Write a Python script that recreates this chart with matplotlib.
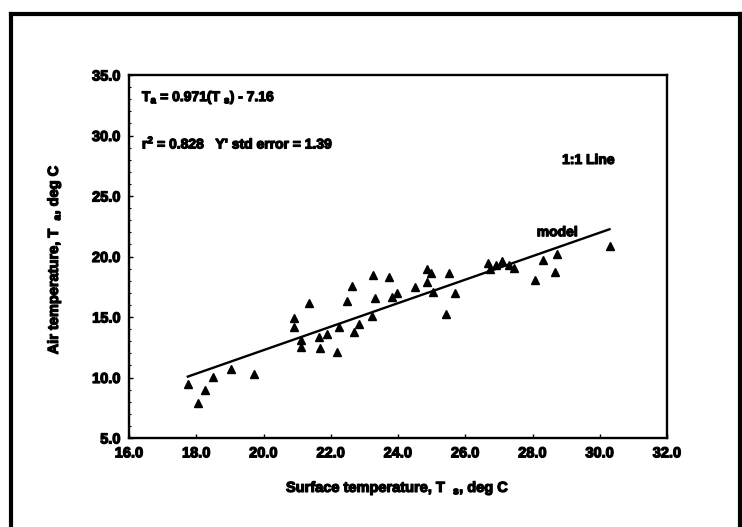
import matplotlib
matplotlib.use('Agg')
import matplotlib.pyplot as plt
import matplotlib.patheffects as pe
import numpy as np
from matplotlib.lines import Line2D

plt.rcParams['font.family'] = ['Liberation Sans', 'DejaVu Sans']
plt.rcParams['font.weight'] = 'bold'
plt.rcParams['mathtext.fontset'] = 'custom'
plt.rcParams['mathtext.default'] = 'regular'

# surface temperature (x) and air temperature (y), deg C
ts = [17.75, 18.04, 18.27, 18.51, 19.04, 19.71, 20.92, 20.92, 21.11, 21.12,
      21.34, 21.65, 21.69, 21.88, 22.18, 22.26, 22.48, 22.62, 22.70, 22.84,
      23.23, 23.27, 23.32, 23.72, 23.82, 23.97, 24.51, 24.86, 24.99, 24.86,
      25.04, 25.52, 25.70, 25.43, 26.69, 26.74, 26.90, 27.10, 27.29, 27.44,
      28.08, 28.31, 28.68, 28.72, 30.29]
ta = [9.46, 7.87, 8.94, 10.07, 10.68, 10.31, 14.89, 14.17, 13.10, 12.55,
      16.18, 13.37, 12.41, 13.60, 12.08, 14.20, 16.32, 17.56, 13.74, 14.40,
      15.11, 18.45, 16.55, 18.28, 16.68, 17.01, 17.45, 18.94, 18.66, 17.92,
      17.09, 18.61, 17.01, 15.22, 19.49, 18.94, 19.30, 19.63, 19.30, 19.02,
      18.06, 19.71, 18.74, 20.18, 20.87]

slope = 0.971
intercept = -7.16

xticks = [16, 18, 20, 22, 24, 26, 28, 30, 32]
yticks = [5, 10, 15, 20, 25, 30, 35]

ts = np.array(ts)
ta = np.array(ta)

heavy = [pe.withStroke(linewidth=0.9, foreground='black')]

fig = plt.figure(figsize=(7.42, 5.27), dpi=100)
ax = fig.add_axes([129/742, 1-438/527, 538/742, 363/527])

ax.plot(ts, ta, linestyle='none', marker='^', color='black', markersize=6)
xl = np.array([ts.min(), ts.max()])
ax.plot(xl, slope*xl + intercept, color='black', linewidth=1.7)

ax.set_xlim(16, 32)
ax.set_ylim(5, 35)
ax.set_xticks(xticks)
ax.set_yticks(yticks)
ax.set_xticklabels(['%.1f' % v for v in xticks])
ax.set_yticklabels(['%.1f' % v for v in yticks])
ax.set_yticks(np.arange(5, 36, 1), minor=True)
ax.tick_params(which='major', direction='in', length=3, width=1, labelsize=10.5, pad=6)
ax.tick_params(which='minor', direction='in', length=1.5, width=0.8)
ax.tick_params(axis='x', which='minor', bottom=False)
for lab in ax.get_xticklabels() + ax.get_yticklabels():
    lab.set_fontweight('bold')
    lab.set_path_effects(heavy)
for sp in ax.spines.values():
    sp.set_linewidth(1.7)

ax.text(0.024, 0.939, 'T$_a$ = 0.971(T $_s$) - 7.16', transform=ax.transAxes,
        fontsize=10, fontweight='bold', va='center', ha='left', path_effects=heavy)
ax.text(0.024, 0.815, "r$^2$ = 0.828   Y' std error = 1.39", transform=ax.transAxes,
        fontsize=10, fontweight='bold', va='center', ha='left', path_effects=heavy)
ax.text(0.805, 0.766, '1:1 Line', transform=ax.transAxes,
        fontsize=10, fontweight='bold', va='center', ha='left', path_effects=heavy)
ax.text(0.758, 0.567, 'model', transform=ax.transAxes,
        fontsize=10, fontweight='bold', va='center', ha='left', path_effects=heavy)

fig.text(398/742, 1-488/527, 'Surface temperature, T  $_s$, deg C',
         fontsize=10.5, fontweight='bold', ha='center', va='center', path_effects=heavy)
fig.text(54/742, 1-259/527, 'Air temperature, T  $_a$, deg C', rotation=90,
         fontsize=10.5, fontweight='bold', ha='center', va='center', path_effects=heavy)

# outer frame
for xs, ys in [([11/742, 11/742], [0, 1-14/527]),
               ([11/742, 740/742], [1-14/527, 1-14/527]),
               ([740/742, 740/742], [1-14/527, 0])]:
    fig.add_artist(Line2D(xs, ys, transform=fig.transFigure, color='black', linewidth=3))

fig.savefig('out.png', dpi=100)
